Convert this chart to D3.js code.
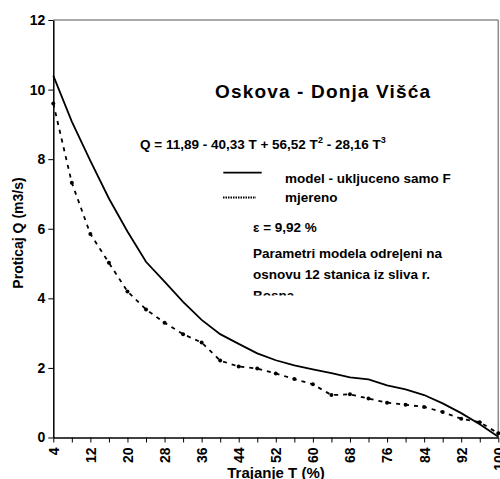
<!DOCTYPE html>
<html>
<head>
<meta charset="utf-8">
<script src="https://cdn.jsdelivr.net/npm/d3@7"></script>
<style>
  html, body { margin: 0; padding: 0; background: #fff; }
  svg { display: block; font-family: Arial, "Liberation Sans", sans-serif; font-weight: bold; }
</style>
</head>
<body>
<svg id="chart" width="500" height="479"></svg>
<script>
// ---- data ----
const trajanje = [4, 8, 12, 16, 20, 24, 28, 32, 36, 40, 44, 48, 52, 56, 60, 64, 68, 72, 76, 80, 84, 88, 92, 96, 100];
const model = [10.4, 9.08, 7.95, 6.87, 5.92, 5.05, 4.48, 3.9, 3.38, 2.97, 2.69, 2.42, 2.22, 2.07, 1.96, 1.85, 1.73, 1.67, 1.5, 1.38, 1.22, 0.98, 0.7, 0.38, 0.02];
const mjereno = [9.6, 7.32, 5.85, 5.02, 4.2, 3.68, 3.3, 2.97, 2.73, 2.21, 2.04, 1.98, 1.84, 1.68, 1.53, 1.22, 1.24, 1.12, 1.0, 0.94, 0.88, 0.73, 0.54, 0.44, 0.12];
const xTickLabels = [4, 12, 20, 28, 36, 44, 52, 60, 68, 76, 84, 92, 100];
const yTicks = [0, 2, 4, 6, 8, 10, 12];
const title = "Oskova - Donja Višća";
const legendModel = "model - ukljuceno samo F";
const legendMjereno = "mjereno";
const epsText = "ε = 9,92 %";
const noteLines = ["Parametri modela odre|eni na", "osnovu 12 stanica iz sliva r.", "Bosna"];

// ---- layout ----
const svg = d3.select("#chart");
const mLeft = 53.3, mRight = 498.3, mTop = 20, mBottom = 437.5;

const x = d3.scaleLinear().domain([4, 100]).range([mLeft, mRight]);
const y = d3.scaleLinear().domain([0, 12]).range([mBottom, mTop]);

// frame (top & right in gray)
svg.append("line").attr("x1", mLeft).attr("x2", mRight).attr("y1", mTop).attr("y2", mTop)
  .attr("stroke", "#8c8c8c").attr("stroke-width", 1.5);
svg.append("line").attr("x1", mRight).attr("x2", mRight).attr("y1", mTop).attr("y2", mBottom)
  .attr("stroke", "#8c8c8c").attr("stroke-width", 1.5);

// y axis
const yAxis = svg.append("g").attr("transform", `translate(${mLeft},0)`)
  .call(d3.axisLeft(y).tickValues(yTicks).tickSize(5).tickSizeOuter(0).tickFormat(d3.format("d")));
yAxis.select(".domain").attr("stroke", "#000").attr("stroke-width", 1.5);
yAxis.selectAll(".tick line").attr("stroke", "#000").attr("stroke-width", 1);
yAxis.selectAll(".tick text").attr("font-size", 14).attr("font-weight", "bold")
  .attr("font-family", "Arial, 'Liberation Sans', sans-serif").attr("fill", "#000").attr("x", -8);

// x axis
const xAxis = svg.append("g").attr("transform", `translate(0,${mBottom})`)
  .call(d3.axisBottom(x).tickValues(trajanje).tickSize(5).tickSizeOuter(0)
    .tickFormat(d => xTickLabels.includes(d) ? d : ""));
xAxis.select(".domain").attr("stroke", "#000").attr("stroke-width", 1.5);
xAxis.selectAll(".tick line").attr("stroke", "#000").attr("stroke-width", 1);
xAxis.selectAll(".tick text")
  .attr("font-size", 14).attr("font-weight", "bold")
  .attr("font-family", "Arial, 'Liberation Sans', sans-serif").attr("fill", "#000")
  .attr("transform", "rotate(-90)")
  .attr("text-anchor", "end")
  .attr("x", -10).attr("y", 0).attr("dy", "0.35em");

// axis titles
svg.append("text").attr("x", 276).attr("y", 478).attr("text-anchor", "middle")
  .attr("font-size", 15).text("Trajanje T (%)");
svg.append("text").attr("transform", "translate(23,233) rotate(-90)").attr("text-anchor", "middle")
  .attr("font-size", 14).text("Proticaj Q (m3/s)");

// series
const mData = trajanje.map((t, i) => ({t, v: model[i]}));
const oData = trajanje.map((t, i) => ({t, v: mjereno[i]}));
const line = d3.line().x(d => x(d.t)).y(d => y(d.v));

svg.append("path").datum(mData).attr("d", line)
  .attr("fill", "none").attr("stroke", "#000").attr("stroke-width", 1.8);
svg.append("path").datum(oData).attr("d", line)
  .attr("fill", "none").attr("stroke", "#000").attr("stroke-width", 1.8)
  .attr("stroke-dasharray", "4,5");
svg.append("g").selectAll("circle").data(oData).join("circle")
  .attr("cx", d => x(d.t)).attr("cy", d => y(d.v)).attr("r", 2).attr("fill", "#000");

// title
svg.append("text").attr("x", 215).attr("y", 98).attr("font-size", 19)
  .attr("textLength", 215).attr("lengthAdjust", "spacing").text(title);

// equation
const eq = svg.append("text").attr("x", 140).attr("y", 149).attr("font-size", 13.5);
eq.append("tspan").text("Q = 11,89 - 40,33 T + 56,52 T");
eq.append("tspan").attr("dy", -6).attr("font-size", 9).text("2");
eq.append("tspan").attr("dy", 6).text(" - 28,16 T");
eq.append("tspan").attr("dy", -6).attr("font-size", 9).text("3");

// legend
svg.append("line").attr("x1", 223.3).attr("x2", 261.7).attr("y1", 172.7).attr("y2", 172.7)
  .attr("stroke", "#000").attr("stroke-width", 1.8);
svg.append("text").attr("x", 285).attr("y", 182.5).attr("font-size", 13.5).text(legendModel);
svg.append("line").attr("x1", 223).attr("x2", 256).attr("y1", 197.5).attr("y2", 197.5)
  .attr("stroke", "#000").attr("stroke-width", 2.2).attr("stroke-dasharray", "1.5,1");
svg.append("text").attr("x", 285).attr("y", 202).attr("font-size", 13.5).text(legendMjereno);

svg.append("text").attr("x", 253).attr("y", 231.7).attr("font-size", 13.5).text(epsText);

// note text, clipped
svg.append("clipPath").attr("id", "noteClip").append("rect")
  .attr("x", 240).attr("y", 240).attr("width", 260).attr("height", 55.5);
const note = svg.append("g").attr("clip-path", "url(#noteClip)");
note.selectAll("text").data(noteLines).join("text")
  .attr("x", 253).attr("y", (d, i) => 258.3 + i * 21).attr("font-size", 13.5).text(d => d);
</script>
</body>
</html>
